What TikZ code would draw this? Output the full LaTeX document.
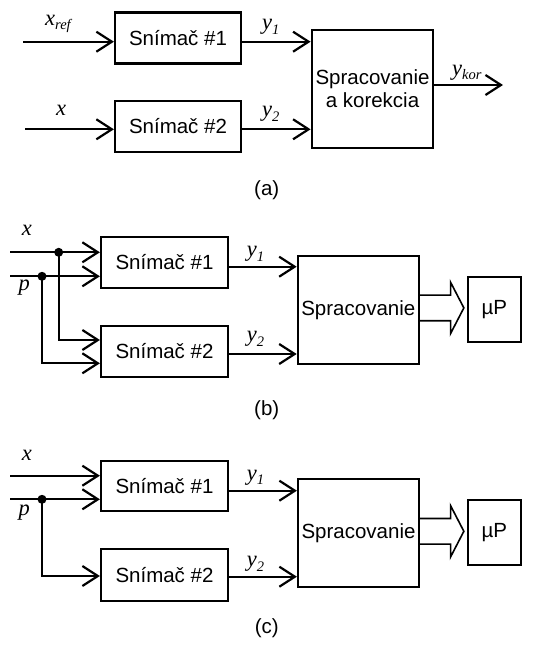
\documentclass[tikz,border=0pt]{standalone}
\usepackage{fontspec}
\setmainfont{Liberation Sans}
\newfontfamily\tms{Liberation Serif}
\usetikzlibrary{arrows.meta,calc}
\newcommand{\vlab}[2]{{\tms\itshape #1\raisebox{-0.22em}{\fontsize{14.5}{14.5}\selectfont #2}}}
\tikzset{
  blk/.style={draw, line width=2.2pt, inner sep=0pt, font=\fontsize{20.5}{23}\selectfont, align=center},
  sig/.style={line width=2.2pt, -{Straight Barb[length=15.5pt,width=20pt]}},
  lbl/.style={anchor=base west, inner sep=0pt, font=\tms\itshape\fontsize{22.5}{24}\selectfont},
  captxt/.style={inner sep=0pt, font=\fontsize{20.5}{22}\selectfont},
  bigarr/.style={line width=1.6pt, line join=miter},
  dotfill/.style={fill=black}
}
\begin{document}
\begin{tikzpicture}[x=1pt,y=-1pt]
\useasboundingbox (0,0) rectangle (549,646);
% ---------------- (a)
\node[blk, minimum width=126pt, minimum height=51pt] (a1) at (178,38) {Snímač \#1};
\node[blk, minimum width=126pt, minimum height=51pt] (a2) at (178,126.2) {Snímač \#2};
\node[blk, minimum width=121.6pt, minimum height=117.7pt] (aS) at (372.5,88.8) {Spracovanie\\a korekcia};
\coordinate (ain1) at (23,41.7);
\coordinate (ain2) at (25,129.3);
\coordinate (aout) at (503,85);
\draw[sig] (ain1) -- (ain1 -| a1.west);
\draw[sig] (ain2) -- (ain2 -| a2.west);
\draw[sig] (ain1 -| a1.east) -- (ain1 -| aS.west);
\draw[sig] (ain2 -| a2.east) -- (ain2 -| aS.west);
\draw[sig] (aout -| aS.east) -- (aout);
\node[lbl] (laxref) at (45,25) {\vlab{x}{ref}};
\node[lbl] (lay1) at (262,29.3) {\vlab{y}{1}};
\node[lbl] (lax) at (56,115) {x};
\node[lbl] (lay2) at (262,116.7) {\vlab{y}{2}};
\node[lbl] (laykor) at (452,75) {\vlab{y}{kor}};
\node[captxt] (capa) at (266.7,190) {(a)};
% ---------------- (b)
\node[blk, minimum width=127pt, minimum height=51pt] (b1) at (164.5,262.2) {Snímač \#1};
\node[blk, minimum width=127pt, minimum height=51pt] (b2) at (164.5,351.2) {Snímač \#2};
\node[blk, minimum width=121pt, minimum height=108pt] (bS) at (358.3,310) {Spracovanie};
\node[blk, minimum width=53.3pt, minimum height=65pt] (bP) at (494.3,309.2) {µP};
\coordinate (bx) at (10,252.3);
\coordinate (bp) at (10,276.3);
\coordinate (bdx) at (58.7,252.3);
\coordinate (bdp) at (42,276.3);
\coordinate (bx2) at (58.7,340);
\coordinate (bp2) at (42,363.3);
\coordinate (by1) at (0,266.7);
\coordinate (by2) at (0,354);
\coordinate (barr) at (0,307.9);
\draw[sig] (bx) -- (bx -| b1.west);
\draw[sig] (bp) -- (bp -| b1.west);
\draw[sig] (bdx) -- (bx2) -- (bx2 -| b2.west);
\draw[sig] (bdp) -- (bp2) -- (bp2 -| b2.west);
\fill[dotfill] (bdx) circle (4.5pt);
\fill[dotfill] (bdp) circle (4.5pt);
\draw[sig] (by1 -| b1.east) -- (by1 -| bS.west);
\draw[sig] (by2 -| b2.east) -- (by2 -| bS.west);
\draw[bigarr] ($(barr -| bS.east)+(0,-12.85)$) -- ($(barr -| bP.west)+(-16,-12.85)$)
  -- ($(barr -| bP.west)+(-16,-25.7)$) -- ($(barr -| bP.west)+(-2.7,0)$)
  -- ($(barr -| bP.west)+(-16,25.7)$) -- ($(barr -| bP.west)+(-16,12.85)$)
  -- ($(barr -| bS.east)+(0,12.85)$);
\node[lbl] (lbx) at (21.7,235) {x};
\node[lbl] (lbp) at (18.3,290) {p};
\node[lbl] (lby1) at (246.7,256.7) {\vlab{y}{1}};
\node[lbl] (lby2) at (246.7,341.7) {\vlab{y}{2}};
\node[captxt] (capb) at (266.7,410) {(b)};
% ---------------- (c)
\node[blk, minimum width=127pt, minimum height=50pt] (c1) at (164.5,485.7) {Snímač \#1};
\node[blk, minimum width=127pt, minimum height=51.7pt] (c2) at (164.5,575.2) {Snímač \#2};
\node[blk, minimum width=121pt, minimum height=108pt] (cS) at (358.5,533.3) {Spracovanie};
\node[blk, minimum width=53.3pt, minimum height=65pt] (cP) at (494.3,532.5) {µP};
\coordinate (cx) at (10,475.7);
\coordinate (cp) at (10,499.3);
\coordinate (cdp) at (42,499.3);
\coordinate (cp2) at (42,576);
\coordinate (cy1) at (0,490.7);
\coordinate (cy2) at (0,576.7);
\coordinate (carr) at (0,531.3);
\draw[sig] (cx) -- (cx -| c1.west);
\draw[sig] (cp) -- (cp -| c1.west);
\draw[sig] (cdp) -- (cp2) -- (cp2 -| c2.west);
\fill[dotfill] (cdp) circle (4.5pt);
\draw[sig] (cy1 -| c1.east) -- (cy1 -| cS.west);
\draw[sig] (cy2 -| c2.east) -- (cy2 -| cS.west);
\draw[bigarr] ($(carr -| cS.east)+(0,-12.85)$) -- ($(carr -| cP.west)+(-16,-12.85)$)
  -- ($(carr -| cP.west)+(-16,-25.7)$) -- ($(carr -| cP.west)+(-2.7,0)$)
  -- ($(carr -| cP.west)+(-16,25.7)$) -- ($(carr -| cP.west)+(-16,12.85)$)
  -- ($(carr -| cS.east)+(0,12.85)$);
\node[lbl] (lcx) at (21.7,460) {x};
\node[lbl] (lcp) at (18.3,515) {p};
\node[lbl] (lcy1) at (246.7,480) {\vlab{y}{1}};
\node[lbl] (lcy2) at (246.7,566.7) {\vlab{y}{2}};
\node[captxt] (capc) at (266.7,628.3) {(c)};
\end{tikzpicture}
\end{document}
